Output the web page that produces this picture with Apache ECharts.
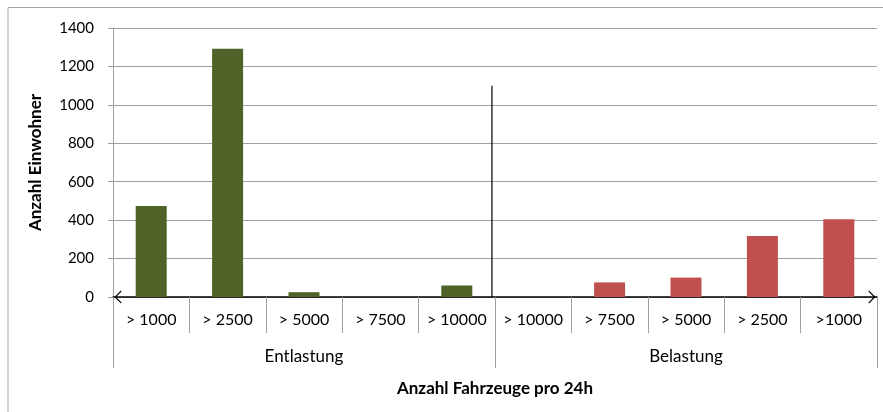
<!DOCTYPE html>
<html>
<head>
<meta charset="utf-8">
<script src="https://cdn.jsdelivr.net/npm/echarts@6/dist/echarts.min.js"></script>
<style>
  html, body { margin: 0; padding: 0; background: #fff; }
  #chart { width: 883px; height: 412px; }
</style>
</head>
<body>
<div id="chart"></div>
<script>
// Traffic-volume classes (vehicles per 24h), grouped by relief / load
const categories = ['> 1000', '> 2500', '> 5000', '> 7500', '> 10000',
                    '> 10000', '> 7500', '> 5000', '> 2500', '>1000'];
const groups = ['Entlastung', 'Belastung'];
// Residents affected
const entlastung = [473, 1292, 25, 0, 60, null, null, null, null, null];
const belastung  = [null, null, null, null, null, 0, 76, 101, 318, 404];
// Divider between both groups: [position on category scale, height]
const dividerPos = 4.96;
const dividerTop = 1100;
const yTicks = [0, 200, 400, 600, 800, 1000, 1200, 1400];

const FONT = 'Lato';
const chart = echarts.init(document.getElementById('chart'), null, { renderer: 'canvas' });

// open chevron arrow head, pointing up (ECharts rotates it along the axis)
const chevron = 'path://M0,10 L10,0 L20,10 L18.6,11 L10,2.6 L1.4,11 Z';

chart.setOption({
  animation: false,
  textStyle: { fontFamily: FONT },
  graphic: [{
    type: 'rect',
    shape: { x: 8, y: 7.5, width: 900, height: 420 },
    style: { fill: 'none', stroke: '#a6a6a6', lineWidth: 1 },
    silent: true
  }],
  grid: { left: 113, right: 6, top: 28, bottom: 115, containLabel: false },
  xAxis: [{
    type: 'category',
    data: categories,
    position: 'bottom',
    axisLine: {
      show: true,
      lineStyle: { color: '#000', width: 1.5 },
      symbol: [chevron, chevron],
      symbolSize: [13, 11],
      symbolOffset: [5, -5]
    },
    axisTick: { show: true, interval: 0, length: 36, lineStyle: { color: '#a0a0a0' } },
    axisLabel: { interval: 0, margin: 15, fontSize: 16, color: '#000', fontFamily: FONT }
  }, {
    type: 'category',
    data: groups,
    position: 'bottom',
    axisLine: { show: false },
    axisTick: { show: true, interval: 0, length: 71, lineStyle: { color: '#a0a0a0' } },
    axisLabel: { interval: 0, margin: 51, fontSize: 17, color: '#000', fontFamily: FONT },
    name: 'Anzahl Fahrzeuge pro 24h',
    nameLocation: 'middle',
    nameGap: 83,
    nameTextStyle: { fontSize: 17, fontWeight: 'bold', color: '#000', fontFamily: FONT }
  }, {
    type: 'value',
    min: 0,
    max: 10,
    show: false
  }],
  yAxis: [{
    type: 'value',
    min: 0,
    max: 1400,
    interval: 200,
    axisLine: { show: true, lineStyle: { color: '#a0a0a0' } },
    axisTick: { show: true, length: 5, lineStyle: { color: '#a0a0a0' } },
    axisLabel: {
      margin: 19, fontSize: 15, color: '#000', fontFamily: FONT,
      formatter: v => yTicks.includes(v) ? String(v) : ''
    },
    splitLine: { show: true, lineStyle: { color: '#a0a0a0', width: 1 } },
    name: 'Anzahl Einwohner',
    nameLocation: 'middle',
    nameGap: 69,
    nameTextStyle: { fontSize: 17, fontWeight: 'bold', color: '#000', fontFamily: FONT }
  }],
  series: [{
    type: 'bar',
    name: 'Entlastung',
    data: entlastung,
    xAxisIndex: 0,
    barWidth: 31,
    barGap: '-100%',
    itemStyle: { color: '#4F6228' },
    z: 3
  }, {
    type: 'bar',
    name: 'Belastung',
    data: belastung,
    xAxisIndex: 0,
    barWidth: 31,
    barGap: '-100%',
    itemStyle: { color: '#C0504D' },
    z: 3
  }, {
    type: 'line',
    name: 'Trennlinie',
    xAxisIndex: 2,
    data: [[dividerPos, 0], [dividerPos, dividerTop]],
    symbol: 'none',
    lineStyle: { color: '#000', width: 1.2 },
    z: 4,
    silent: true
  }]
});
</script>
</body>
</html>
